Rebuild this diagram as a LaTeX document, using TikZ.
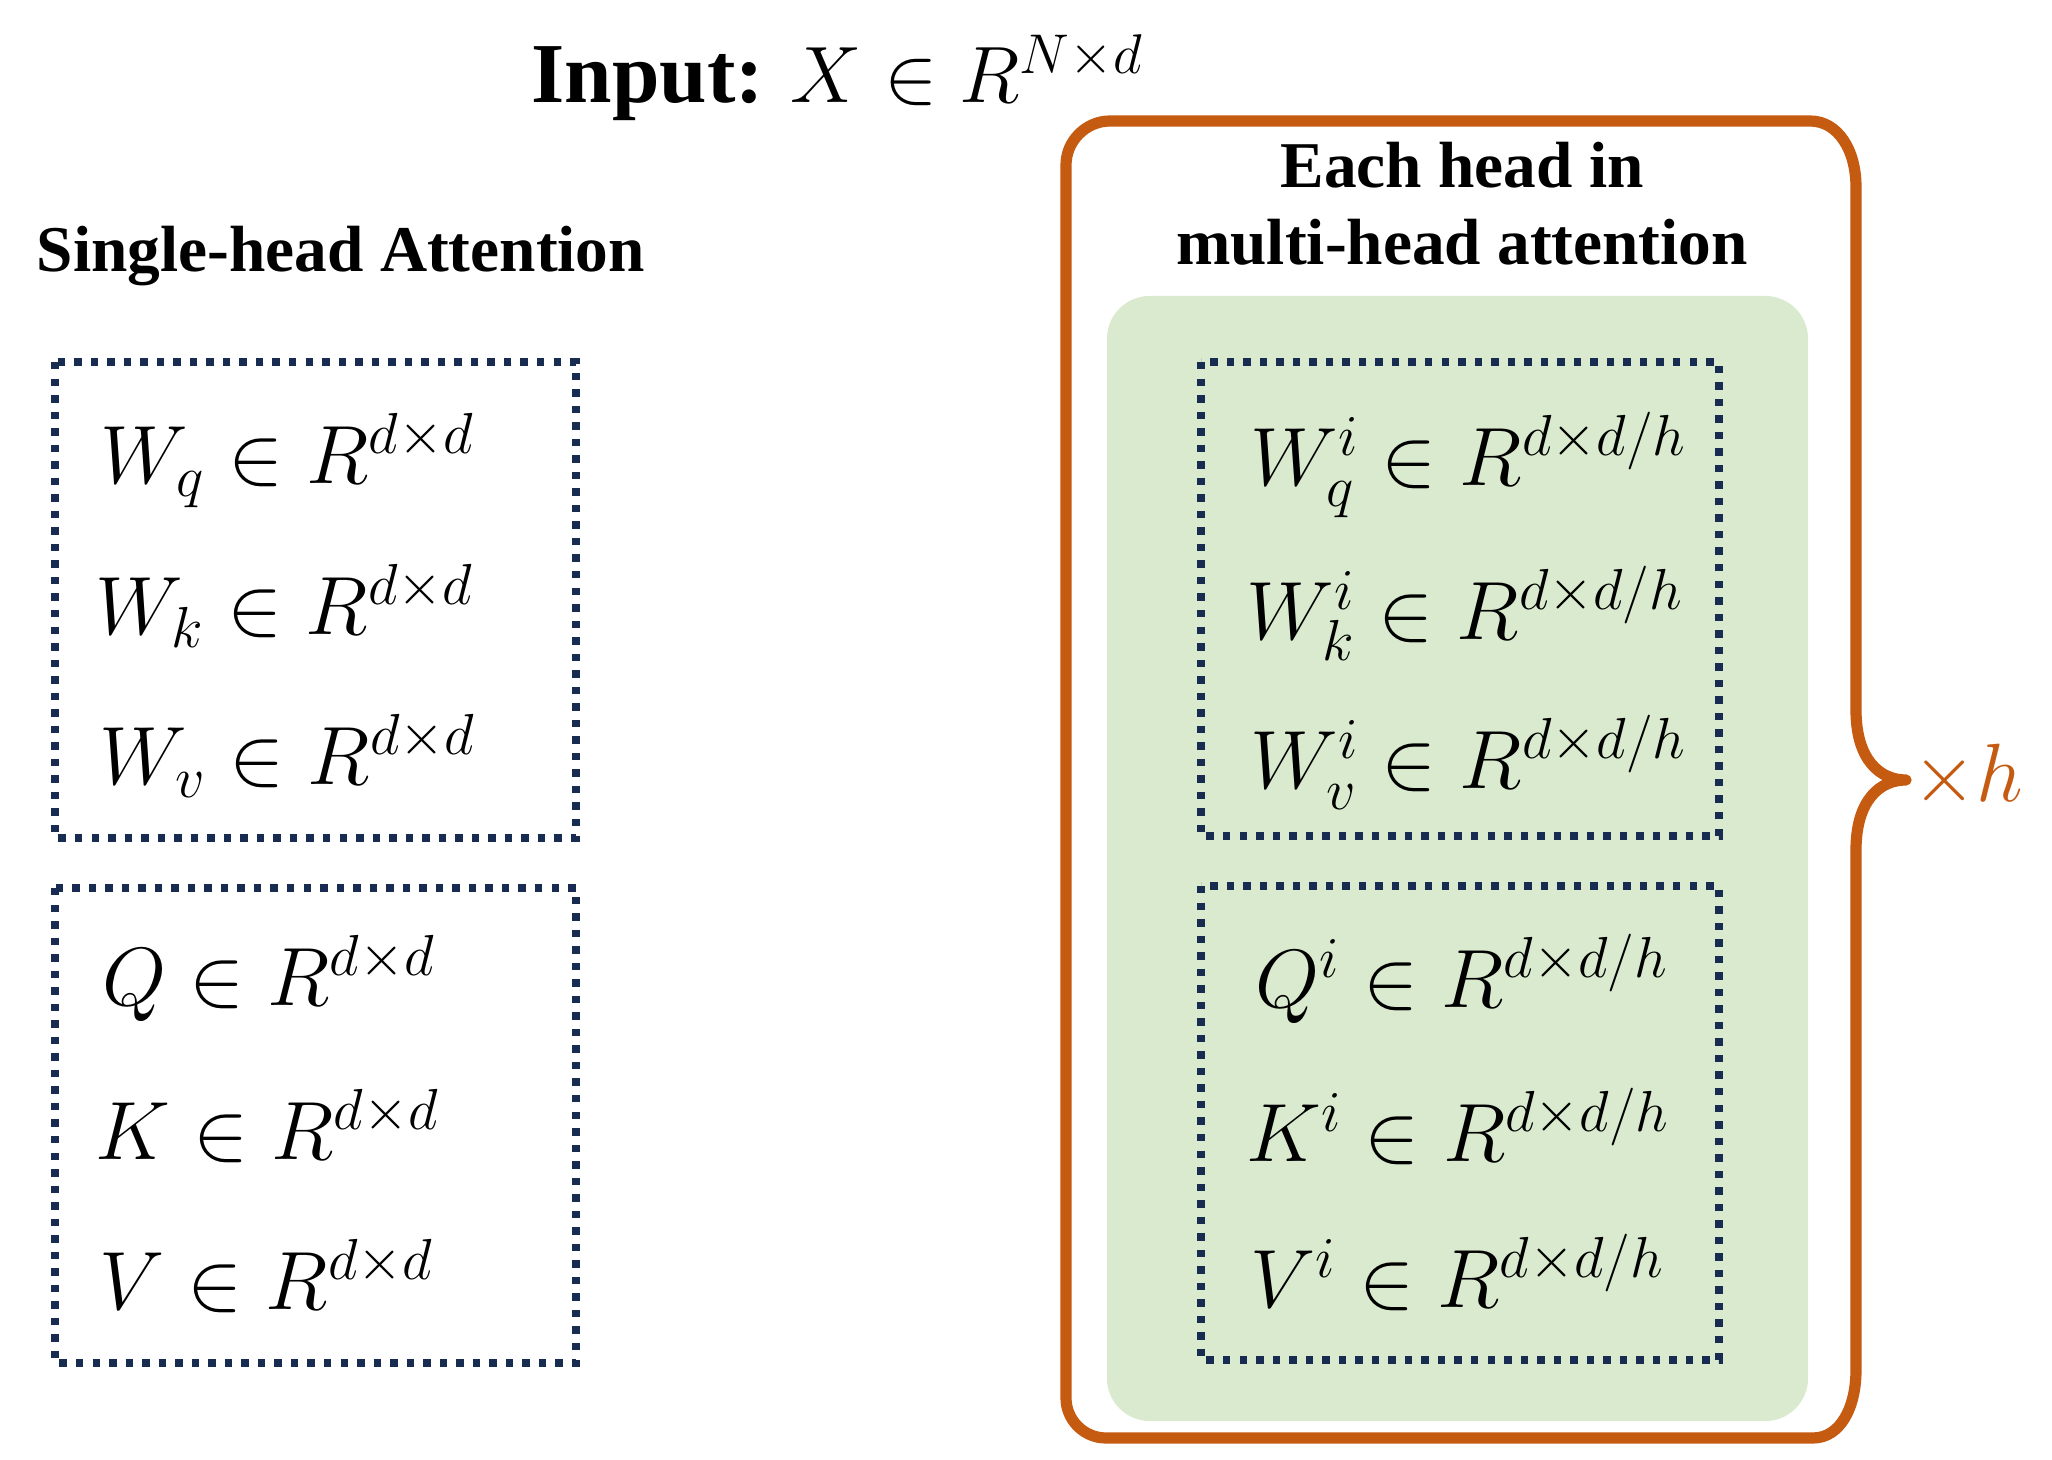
\documentclass[tikz,border=0pt]{standalone}
\usepackage{fix-cm}
\usepackage{fontspec}
\setmainfont{Liberation Serif}
\definecolor{orng}{RGB}{197,90,17}
\definecolor{grn}{RGB}{217,234,206}
\definecolor{navy}{RGB}{24,43,80}
\begin{document}
\begin{tikzpicture}[x=0.375pt,y=-0.375pt,
  dotbox/.style={draw=navy,line width=2.8pt,dash pattern=on 2.8pt off 3.4pt},
  mth/.style={anchor=base west,inner sep=0pt,font=\fontsize{31}{37}\selectfont},
  ttl/.style={anchor=base,inner sep=0pt,font=\fontsize{24.5}{29}\selectfont\bfseries}]
\useasboundingbox (0,0) rectangle (2052,1460);
\fill[white] (0,0) rectangle (2052,1460);
% green panel
\fill[grn,rounded corners=16pt] (1107,296) rectangle (1808,1421);
% orange frame with brace
\draw[orng,line width=4.2pt,line join=round]
  (1110,121) -- (1810,121) .. controls (1838,121) and (1856,150) .. (1856,187)
  -- (1856,710) .. controls (1856,760) and (1880,780) .. (1906,780)
  .. controls (1880,780) and (1856,800) .. (1856,850)
  -- (1856,1370) .. controls (1856,1408) and (1840,1438) .. (1813,1438)
  -- (1106,1438) .. controls (1084,1438) and (1066,1420) .. (1066,1398)
  -- (1066,165) .. controls (1066,141) and (1086,121) .. (1110,121) -- cycle;
% dotted boxes
\draw[dotbox] (55,362) rectangle (576,838);
\draw[dotbox] (55,888) rectangle (576,1363);
\draw[dotbox] (1201,362) rectangle (1719,836);
\draw[dotbox] (1201,886) rectangle (1719,1360);
% titles
\node[anchor=base west,inner sep=0pt,font=\fontsize{32}{38}\selectfont\bfseries] (inputlbl) at (531,103) {Input:};
\node[mth,font=\fontsize{30}{36}\selectfont] (inputmath) at (790,103) {$X \in R^{N\times d}$};
\node[ttl] (singletitle) at (341,272) {Single-head Attention};
\node[ttl] (eachtitle) at (1462,188) {Each head in};
\node[ttl] (multititle) at (1462,265) {multi-head attention};
% left rows
\node[mth] (wq) at (100,484) {$W_q \in R^{d\times d}$};
\node[mth] (wk) at (95,635) {$W_k \in R^{d\times d}$};
\node[mth] (wv) at (99,785) {$W_v \in R^{d\times d}$};
\node[mth] (q) at (102,1006) {$Q \in R^{d\times d}$};
\node[mth] (k) at (95,1160) {$K \in R^{d\times d}$};
\node[mth] (v) at (99,1310) {$V \in R^{d\times d}$};
% right rows
\node[mth] (wqi) at (1250,486) {$W_q^i \in R^{d\times d/h}$};
\node[mth] (wki) at (1246,640) {$W_k^i \in R^{d\times d/h}$};
\node[mth] (wvi) at (1250,789) {$W_v^i \in R^{d\times d/h}$};
\node[mth] (qi) at (1255,1008) {$Q^i \in R^{d\times d/h}$};
\node[mth] (ki) at (1246,1162) {$K^i \in R^{d\times d/h}$};
\node[mth] (vi) at (1250,1308) {$V^i \in R^{d\times d/h}$};
% times h
\node[mth,text=orng] (timesh) at (1912,802) {$\times h$};
\end{tikzpicture}
\end{document}
